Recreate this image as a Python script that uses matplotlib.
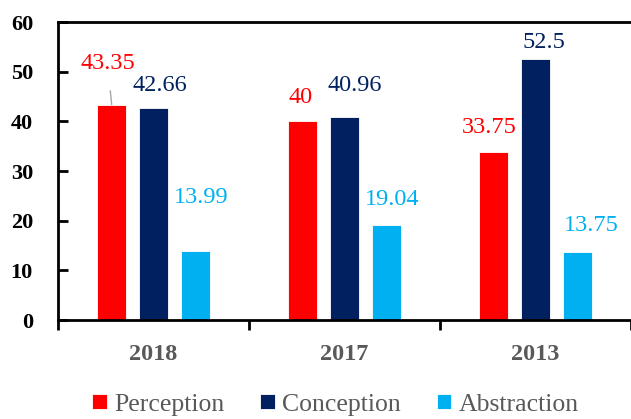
import matplotlib
matplotlib.use("Agg")
import matplotlib.pyplot as plt
import numpy as np

categories = ["2018", "2017", "2013"]
series_names = ["Perception", "Conception", "Abstraction"]
perception = [43.35, 40, 33.75]
conception = [42.66, 40.96, 52.5]
abstraction = [13.99, 19.04, 13.75]
colors = ["#FF0000", "#002060", "#00B0F0"]
y_ticks = [0, 10, 20, 30, 40, 50, 60]

# label offsets in pixels (dx, dy) relative to bar top centre
label_offsets = [
    [(-4, 41), (-2, 24), (-4, 25)],
    [(6, 23), (10, 31), (8, 17)],
    [(6, 53), (6, 26), (14, 26)],
]

plt.rcParams['font.family'] = ['Liberation Serif', 'DejaVu Serif']

fig = plt.figure(figsize=(6.31, 4.19), dpi=100)
ax = fig.add_axes([58/631, 1-320/419, 1-58/631, (320-22)/419])

x = np.arange(len(categories))
width = 0.152
spacing = 0.219
data = [perception, conception, abstraction]
for i, (vals, col, name) in enumerate(zip(data, colors, series_names)):
    pos = x + (i - 1) * spacing
    ax.bar(pos, vals, width, color=col, label=name, edgecolor='white', linewidth=0.6, zorder=2)
    for j, (p, v) in enumerate(zip(pos, vals)):
        dx, dy = label_offsets[i][j]
        txt = f"{v:g}"
        kw = dict(xy=(p, v), xytext=(dx, dy), textcoords='offset pixels',
                  ha='center', va='center', color=col, fontsize=17.5)
        if i == 0 and j == 0:
            kw['arrowprops'] = dict(arrowstyle='-', color='#A6A6A6', lw=1.0,
                                    shrinkA=10, shrinkB=0)
        ax.annotate(txt, **kw)

ax.set_ylim(0, 60)
ax.set_xlim(-0.5, 2.5)
ax.set_yticks(y_ticks)
ax.set_yticklabels([str(t) for t in y_ticks], fontweight='bold', fontsize=16, color='black')
ax.tick_params(axis='y', direction='in', length=7, width=2, pad=18)

ax.set_xticks([-0.5, 0.5, 1.5, 2.5])
ax.set_xticklabels([])
ax.tick_params(axis='x', which='major', direction='out', length=7, width=2)
ax.set_xticks(x, minor=True)
ax.set_xticklabels(categories, minor=True, fontweight='bold', fontsize=17.5, color='#595959')
ax.tick_params(axis='x', which='minor', length=0, pad=17)

for s in ['left', 'bottom', 'top']:
    ax.spines[s].set_linewidth(2)
    ax.spines[s].set_color('black')
ax.spines['right'].set_visible(False)

leg = fig.legend(loc='center', bbox_to_anchor=(0.532, 0.034), ncol=3, frameon=False,
                 fontsize=18.5, handlelength=0.55, handleheight=0.55, handletextpad=0.3,
                 columnspacing=1.4)
for t in leg.get_texts():
    t.set_color('#595959')

fig.savefig("out.png", dpi=100)
